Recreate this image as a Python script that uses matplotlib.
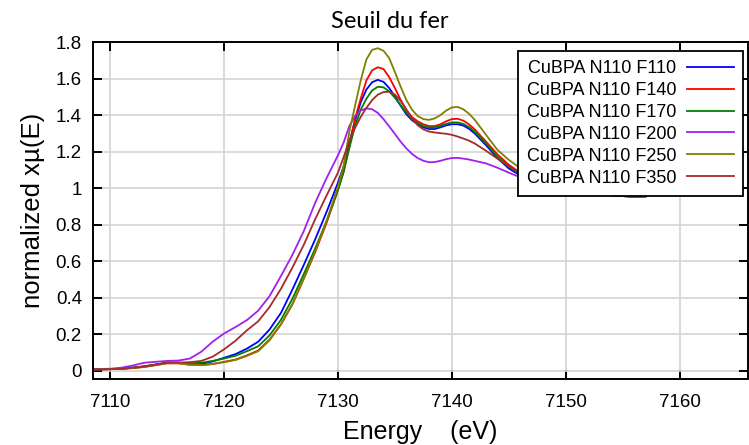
import matplotlib
matplotlib.use("Agg")
import matplotlib.pyplot as plt

# energy grid (eV) shared by all spectra
energy = [7108.5, 7109, 7110, 7111, 7112, 7113, 7114, 7115, 7116, 7117, 7118,
          7119, 7120, 7121, 7122, 7123, 7124, 7125, 7126, 7127, 7128, 7129,
          7130, 7130.5, 7131, 7131.5, 7132, 7132.5, 7133, 7133.5, 7134, 7134.5,
          7135, 7135.5, 7136, 7136.5, 7137, 7137.5, 7138, 7138.5, 7139, 7139.5,
          7140, 7140.5, 7141, 7141.5, 7142, 7143, 7144,
          7145, 7146, 7147, 7148, 7150, 7152, 7154, 7155, 7156, 7157]

f110 = [0.008, 0.009, 0.010, 0.012, 0.018, 0.025, 0.035, 0.045, 0.045, 0.038, 0.038,
        0.052, 0.072, 0.092, 0.122, 0.160, 0.227, 0.318, 0.445, 0.580, 0.720, 0.870,
        1.030, 1.120, 1.250, 1.370, 1.470, 1.540, 1.580, 1.593, 1.582, 1.548,
        1.502, 1.452, 1.405, 1.372, 1.350, 1.333, 1.324, 1.324, 1.333, 1.344,
        1.350, 1.350, 1.343, 1.325, 1.300, 1.235, 1.165,
        1.108, 1.070, 1.045, 1.025, 0.995, 0.975, 0.962, 0.957, 0.955, 0.956]
f140 = [0.008, 0.009, 0.010, 0.012, 0.016, 0.022, 0.032, 0.042, 0.042, 0.034, 0.032,
        0.038, 0.050, 0.062, 0.085, 0.112, 0.172, 0.255, 0.365, 0.505, 0.650, 0.810,
        0.990, 1.090, 1.230, 1.380, 1.490, 1.590, 1.645, 1.662, 1.652, 1.608,
        1.548, 1.484, 1.428, 1.390, 1.366, 1.350, 1.340, 1.340, 1.350, 1.366,
        1.378, 1.380, 1.370, 1.350, 1.322, 1.255, 1.185,
        1.128, 1.085, 1.055, 1.030, 1.000, 0.978, 0.962, 0.957, 0.954, 0.956]
f170 = [0.008, 0.009, 0.010, 0.012, 0.018, 0.025, 0.035, 0.045, 0.045, 0.042, 0.045,
        0.055, 0.068, 0.083, 0.108, 0.135, 0.195, 0.280, 0.395, 0.530, 0.670, 0.820,
        0.990, 1.090, 1.220, 1.340, 1.430, 1.490, 1.535, 1.555, 1.552, 1.530,
        1.495, 1.455, 1.413, 1.380, 1.357, 1.340, 1.332, 1.333, 1.342, 1.352,
        1.360, 1.360, 1.352, 1.335, 1.310, 1.245, 1.172,
        1.118, 1.078, 1.050, 1.028, 0.998, 0.978, 0.962, 0.957, 0.954, 0.955]
f200 = [0.010, 0.011, 0.012, 0.018, 0.030, 0.045, 0.050, 0.055, 0.057, 0.068, 0.105,
        0.160, 0.205, 0.240, 0.278, 0.330, 0.410, 0.520, 0.635, 0.765, 0.920, 1.055,
        1.180, 1.250, 1.340, 1.395, 1.425, 1.437, 1.432, 1.412, 1.378, 1.338,
        1.297, 1.255, 1.218, 1.188, 1.165, 1.150, 1.142, 1.143, 1.150, 1.159,
        1.165, 1.166, 1.162, 1.157, 1.150, 1.136, 1.112,
        1.085, 1.060, 1.040, 1.022, 0.995, 0.975, 0.962, 0.957, 0.954, 0.956]
f250 = [0.008, 0.009, 0.010, 0.012, 0.016, 0.022, 0.032, 0.042, 0.042, 0.034, 0.032,
        0.038, 0.048, 0.060, 0.082, 0.108, 0.168, 0.255, 0.365, 0.505, 0.655, 0.820,
        1.010, 1.120, 1.310, 1.450, 1.590, 1.705, 1.757, 1.766, 1.752, 1.712,
        1.636, 1.556, 1.484, 1.430, 1.395, 1.378, 1.374, 1.382, 1.400, 1.425,
        1.442, 1.445, 1.432, 1.408, 1.375, 1.292, 1.210,
        1.155, 1.110, 1.075, 1.045, 1.005, 0.980, 0.962, 0.957, 0.954, 0.955]
f350 = [0.008, 0.009, 0.010, 0.012, 0.018, 0.025, 0.035, 0.045, 0.046, 0.048, 0.055,
        0.078, 0.118, 0.165, 0.222, 0.272, 0.350, 0.450, 0.565, 0.690, 0.830, 0.960,
        1.085, 1.170, 1.260, 1.330, 1.390, 1.440, 1.482, 1.512, 1.526, 1.528,
        1.512, 1.478, 1.432, 1.380, 1.345, 1.322, 1.310, 1.305, 1.301, 1.298,
        1.292, 1.283, 1.272, 1.260, 1.245, 1.205, 1.162,
        1.120, 1.085, 1.055, 1.032, 1.000, 0.978, 0.962, 0.957, 0.953, 0.955]

labels = ["CuBPA N110 F110", "CuBPA N110 F140", "CuBPA N110 F170",
          "CuBPA N110 F200", "CuBPA N110 F250", "CuBPA N110 F350"]
series = [f110, f140, f170, f200, f250, f350]
colors = ["#0000ff", "#ff0000", "#008000", "#a020f0", "#808000", "#a52a2a"]

plt.rcParams["font.family"] = ["Liberation Sans", "DejaVu Sans"]

fig = plt.figure(figsize=(7.49, 4.45), dpi=100)
ax = fig.add_axes([0.1242, 0.1483, 0.8745, 0.7573])

for y, lab, col in zip(series, labels, colors):
    ax.plot(energy, y, color=col, lw=1.3, label=lab)

ax.set_xlim(7108.5, 7166)
ax.set_ylim(-0.044, 1.8)
ax.set_xticks(range(7110, 7161, 10))
ax.set_yticks([0, 0.2, 0.4, 0.6, 0.8, 1, 1.2, 1.4, 1.6, 1.8])
ax.set_yticklabels(["0", "0.2", "0.4", "0.6", "0.8", "1", "1.2", "1.4", "1.6", "1.8"])
ax.grid(True, color="#d4d4d4", lw=1.2)
ax.set_axisbelow(True)
ax.tick_params(direction="in", length=6.5, width=1.4, top=True, right=True,
               labelsize=13.5, pad=8)
ax.tick_params(axis="x", pad=11)
for s in ax.spines.values():
    s.set_linewidth(1.4)

ax.set_xlabel("Energy    (eV)", fontsize=18, labelpad=6)
ax.set_ylabel("normalized x\u00b5(E)", fontsize=18.5, labelpad=8)

fig.text(390 / 749, 1 - 21 / 445, "Seuil du fer", fontsize=17,
         family=["Lato", "DejaVu Sans"], ha="center", va="center")

leg = ax.legend(loc="upper right", bbox_to_anchor=(0.9924, 0.973), borderaxespad=0,
                markerfirst=False, fontsize=13, frameon=True, fancybox=False,
                framealpha=1, edgecolor="black", labelspacing=0.27,
                handlelength=2.6, handletextpad=0.6, borderpad=0.5)
leg.get_frame().set_linewidth(1.3)

fig.savefig("out.png", dpi=100)
